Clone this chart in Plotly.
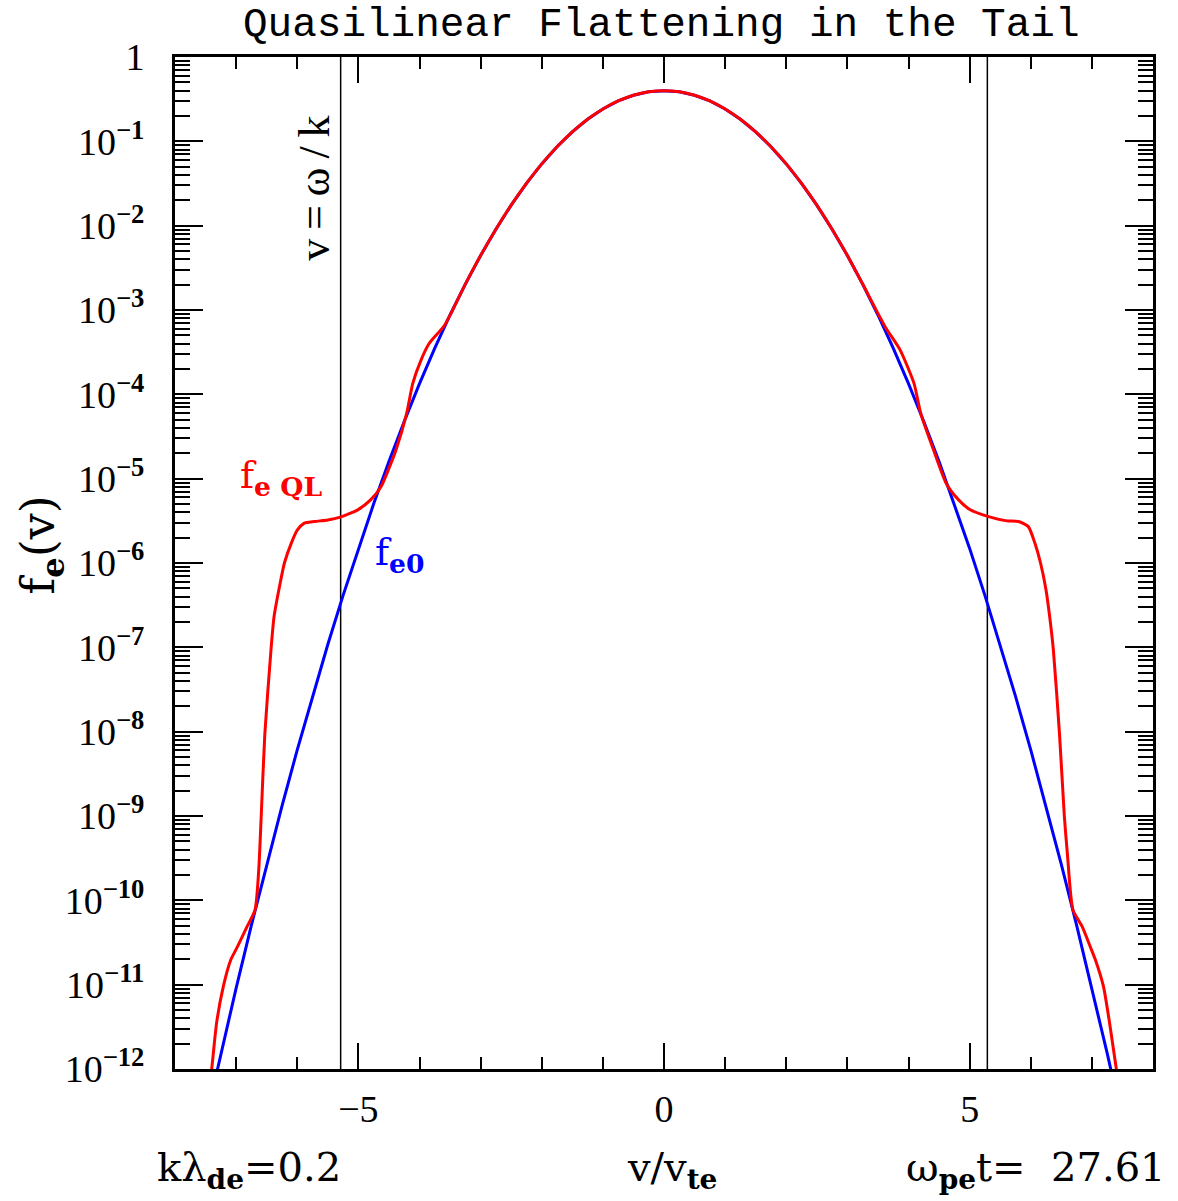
import plotly.graph_objects as go

# ---------------- data ----------------
v_f0 = [-7.5, -7.25, -7.0, -6.75, -6.5, -6.25, -6.0, -5.75, -5.5, -5.25, -5.0,
        -4.75, -4.5, -4.25, -4.0, -3.75, -3.5, -3.25, -3.0, -2.75, -2.5, -2.25,
        -2.0, -1.75, -1.5, -1.25, -1.0, -0.75, -0.5, -0.25, 0.0,
        0.25, 0.5, 0.75, 1.0, 1.25, 1.5, 1.75, 2.0, 2.25, 2.5, 2.75, 3.0, 3.25,
        3.5, 3.75, 4.0, 4.25, 4.5, 4.75, 5.0, 5.25, 5.5, 5.75, 6.0, 6.25, 6.5,
        6.75, 7.0, 7.25, 7.5]
f_e0 = [2.4e-13, 1.54e-12, 9.1e-12, 5.09e-11, 2.67e-10, 1.31e-9, 6.08e-9, 2.64e-8,
        1.08e-7, 4.13e-7, 1.49e-6, 5.03e-6, 1.60e-5, 4.77e-5, 1.338e-4, 3.53e-4,
        8.73e-4, 2.03e-3, 4.43e-3, 9.09e-3, 1.753e-2, 3.17e-2, 5.40e-2, 8.63e-2,
        1.295e-1, 1.826e-1, 2.420e-1, 3.011e-1, 3.521e-1, 3.867e-1, 3.99e-1,
        3.867e-1, 3.521e-1, 3.011e-1, 2.420e-1, 1.826e-1, 1.295e-1, 8.63e-2,
        5.40e-2, 3.17e-2, 1.753e-2, 9.09e-3, 4.43e-3, 2.03e-3, 8.73e-4, 3.53e-4,
        1.338e-4, 4.77e-5, 1.60e-5, 5.03e-6, 1.49e-6, 4.13e-7, 1.08e-7, 2.64e-8,
        6.08e-9, 1.31e-9, 2.67e-10, 5.09e-11, 9.1e-12, 1.54e-12, 2.4e-13]

v_ql = [-7.50, -7.40, -7.32, -7.21, -7.09, -6.98, -6.82, -6.69, -6.63, -6.59,
        -6.53, -6.43, -6.38, -6.28, -6.21, -6.10, -6.00, -5.89, -5.72, -5.50,
        -5.31, -5.01, -4.80, -4.63, -4.49, -4.385, -4.21, -4.11, -3.975, -3.84,
        -3.59, -3.25, -3.0, -2.75, -2.5, -2.25, -2.0, -1.75, -1.5, -1.25, -1.0,
        -0.75, -0.5, -0.25, 0.0, 0.25, 0.5, 0.75, 1.0, 1.25, 1.5, 1.75, 2.0, 2.25,
        2.5, 2.75, 3.0, 3.25, 3.62, 3.86, 4.09, 4.20, 4.41, 4.62, 4.82, 5.01,
        5.31, 5.61, 5.80, 5.96, 6.07, 6.16, 6.25, 6.31, 6.37, 6.47, 6.55, 6.60,
        6.69, 6.84, 6.975, 7.06, 7.19, 7.29, 7.40, 7.50]
f_eQL = [3.2e-13, 1.0e-12, 3.5e-12, 9.5e-12, 1.95e-11, 2.8e-11, 4.9e-11, 7.7e-11,
         2.3e-10, 9.8e-10, 9.5e-9, 9.3e-8, 2.3e-7, 5.75e-7, 1.0e-6, 1.7e-6,
         2.45e-6, 2.95e-6, 3.1e-6, 3.24e-6, 3.47e-6, 4.27e-6, 5.6e-6, 8.0e-6,
         1.38e-5, 2.19e-5, 5.96e-5, 1.35e-4, 2.55e-4, 4.03e-4, 6.6e-4, 2.03e-3,
         4.43e-3, 9.09e-3, 1.753e-2, 3.17e-2, 5.40e-2, 8.63e-2, 1.295e-1,
         1.826e-1, 2.420e-1, 3.011e-1, 3.521e-1, 3.867e-1, 3.99e-1, 3.867e-1,
         3.521e-1, 3.011e-1, 2.420e-1, 1.826e-1, 1.295e-1, 8.63e-2, 5.40e-2,
         3.17e-2, 1.753e-2, 9.09e-3, 4.43e-3, 2.03e-3, 6.3e-4, 3.39e-4, 1.35e-4,
         5.96e-5, 2.19e-5, 8.7e-6, 5.6e-6, 4.27e-6, 3.55e-6, 3.16e-6, 3.1e-6,
         2.7e-6, 1.7e-6, 1.0e-6, 4.8e-7, 2.3e-7, 9.3e-8, 9.5e-9, 9.8e-10, 3.5e-10,
         7.7e-11, 4.9e-11, 2.8e-11, 1.95e-11, 9.5e-12, 3.5e-12, 1.0e-12, 3.2e-13]

omega_over_k = 5.29
x_tickvals = [-5, 0, 5]
x_ticktext = ["\u22125", "0", "5"]
y_tickvals = [1, 1e-1, 1e-2, 1e-3, 1e-4, 1e-5, 1e-6, 1e-7, 1e-8, 1e-9, 1e-10, 1e-11, 1e-12]
y_ticktext = ["1"] + ["10<sup><b>\u2212%d</b></sup>" % k for k in range(1, 13)]

SERIF = "Liberation Serif"
WIDE = "DejaVu Serif"
MONO = "Liberation Mono"

fig = go.Figure()
fig.add_trace(go.Scatter(x=v_f0, y=f_e0, mode="lines",
                         line=dict(color="#0000ff", width=3), showlegend=False))
fig.add_trace(go.Scatter(x=v_ql, y=f_eQL, mode="lines",
                         line=dict(color="#ff0000", width=3, shape="spline", smoothing=0.6),
                         showlegend=False))

for xv in (-omega_over_k, omega_over_k):
    fig.add_shape(type="line", xref="x", yref="paper", x0=xv, x1=xv, y0=0, y1=1,
                  line=dict(color="black", width=1.5), layer="below")

axis_common = dict(showline=True, linecolor="black", linewidth=3, mirror="allticks",
                   ticks="inside", tickcolor="black", tickwidth=2, showgrid=False,
                   zeroline=False, tickfont=dict(family=SERIF, size=38, color="black"))

fig.update_xaxes(range=[-8, 8], tickmode="array", tickvals=x_tickvals, ticktext=x_ticktext,
                 ticklen=26, ticklabelstandoff=4,
                 minor=dict(dtick=1, ticks="inside", ticklen=12, tickwidth=2,
                            tickcolor="black", showgrid=False),
                 **axis_common)
fig.update_yaxes(type="log", range=[-12, 0], tickmode="array", tickvals=y_tickvals,
                 ticktext=y_ticktext, ticklen=28, ticklabelstandoff=20,
                 minor=dict(dtick="D1", ticks="inside", ticklen=15, tickwidth=2,
                            tickcolor="black", showgrid=False),
                 **axis_common)

annotations = [
    dict(text="Quasilinear Flattening in the Tail", xref="paper", yref="paper",
         x=0.497, y=1.0, yshift=32, xanchor="center", yanchor="middle", showarrow=False,
         font=dict(family=MONO, size=41, color="black")),
    dict(text="f<sub><b>e</b></sub>(v)", xref="paper", yref="paper", x=-0.136, y=0.518,
         textangle=-90, xanchor="center", yanchor="middle", showarrow=False,
         font=dict(family=WIDE, size=46, color="black")),
    dict(text="v/v<sub><b>te</b></sub>", xref="paper", yref="paper", x=0.508, y=-0.1,
         xanchor="center", yanchor="middle", showarrow=False,
         font=dict(family=WIDE, size=40, color="black")),
    dict(text="k\u03bb<sub><b>de</b></sub>=0.2", xref="paper", yref="paper", x=-0.0204,
         y=-0.1, xanchor="left", yanchor="middle", showarrow=False,
         font=dict(family=WIDE, size=40, color="black")),
    dict(text="\u03c9<sub><b>pe</b></sub>t=  27.61", xref="paper", yref="paper", x=1.0153,
         y=-0.1, xanchor="right", yanchor="middle", showarrow=False,
         font=dict(family=WIDE, size=40, color="black")),
    dict(text="v\u2009=\u2009\u03c9\u2009/\u2009k", xref="paper", yref="paper", x=0.143,
         y=0.8706, textangle=-90, xanchor="center", yanchor="middle", showarrow=False,
         font=dict(family=SERIF, size=44, color="black")),
    dict(text="f<sub><b>e QL</b></sub>", xref="paper", yref="paper", x=0.0644, y=0.584,
         xanchor="left", yanchor="middle", showarrow=False,
         font=dict(family=WIDE, size=38, color="#ff0000")),
    dict(text="f<sub><b>e0</b></sub>", xref="paper", yref="paper", x=0.2025, y=0.508,
         xanchor="left", yanchor="middle", showarrow=False,
         font=dict(family=WIDE, size=38, color="#0000ff")),
]

fig.update_layout(width=1178, height=1201, margin=dict(l=175, r=25, t=57, b=132),
                  plot_bgcolor="white", paper_bgcolor="white", annotations=annotations)

fig.write_html("out.html")
